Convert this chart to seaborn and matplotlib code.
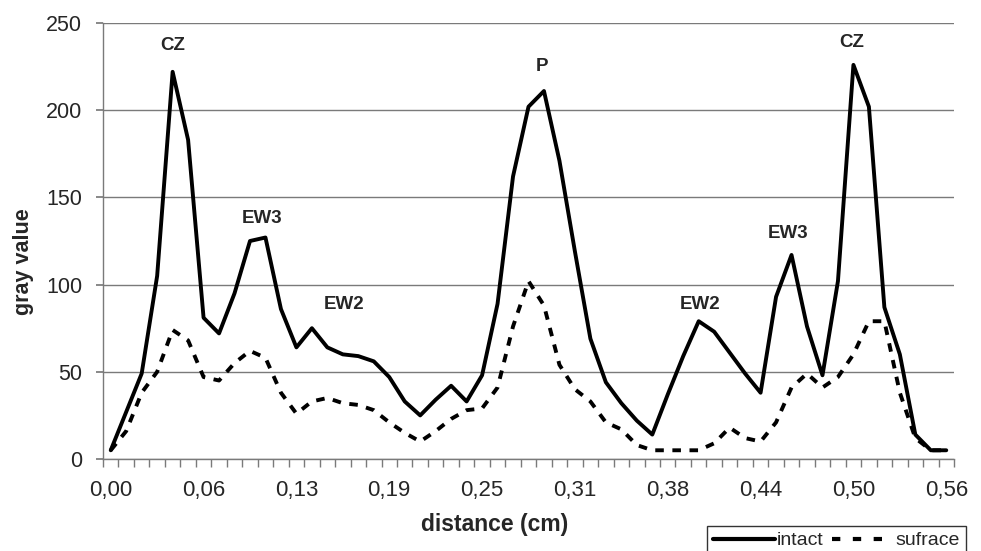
import numpy as np
import pandas as pd
import matplotlib
matplotlib.use("Agg")
import matplotlib.pyplot as plt
import seaborn as sns
from matplotlib.lines import Line2D

# ---- data ----
intact = [5, 27, 49, 105, 222, 183, 81, 72, 95, 125, 127, 86, 64, 75, 64, 60, 59, 56, 47, 33,
          25, 34, 42, 33, 48, 89, 162, 202, 211, 171, 119, 69, 44, 32, 22, 14, 37, 59, 79, 73,
          61, 49, 38, 93, 117, 76, 48, 102, 226, 202, 87, 60, 14, 5, 5]
sufrace = [5, 16, 38, 50, 74, 68, 47, 45, 55, 62, 58, 38, 26, 33, 35, 32, 31, 28, 21, 15,
           10, 16, 23, 28, 29, 41, 76, 102, 88, 54, 40, 33, 21, 17, 8, 5, 5, 5, 5, 9,
           18, 12, 10, 21, 41, 49, 41, 47, 60, 79, 79, 38, 12, 5, 5]
x_tick_labels = ["0,00", "0,06", "0,13", "0,19", "0,25", "0,31", "0,38", "0,44", "0,50", "0,56"]
y_ticks = [0, 50, 100, 150, 200, 250]
peak_labels = ["CZ", "EW3", "EW2", "P", "EW2", "EW3", "CZ"]
peak_pos = [4, 9.8, 15.1, 27.9, 38.1, 43.8, 47.9]
peak_y = [237, 138, 88.6, 225, 88.6, 129.4, 239]

n = len(intact)
idx = np.arange(n)
df = pd.DataFrame({
    "pos": np.concatenate([idx, idx]),
    "value": intact + sufrace,
    "series": ["intact"] * n + ["sufrace"] * n,
})

sns.set_theme(style="white")
plt.rcParams['font.family'] = ['Liberation Sans', 'DejaVu Sans']

fig = plt.figure(figsize=(9.81, 5.51), dpi=100)
ax = fig.add_axes([103 / 981, 1 - 459 / 551, (954 - 103) / 981, (459 - 23) / 551])

sns.lineplot(data=df, x="pos", y="value", hue="series", style="series",
             palette={"intact": "black", "sufrace": "black"},
             dashes={"intact": "", "sufrace": (2.2, 2.2)},
             linewidth=2.8, ax=ax, legend=False)

ax.set_xlim(-0.5, n - 0.5)
ax.set_ylim(0, 250)

# gridlines
ax.set_yticks(y_ticks)
ax.yaxis.grid(True, color="#7a7a7a", linewidth=1.0)
ax.set_axisbelow(True)
ax.tick_params(axis="y", length=5, direction="out", color="#7a7a7a", left=True,
               labelsize=15.5, pad=10)

# x ticks: labels at every 6th category, marks at category boundaries
ax.set_xticks(np.arange(0, n, 6))
ax.set_xticklabels(x_tick_labels, fontsize=16)
ax.set_xticks(np.arange(-0.5, n, 1), minor=True)
ax.tick_params(axis="x", which="major", length=0, pad=15)
ax.tick_params(axis="x", which="minor", length=6, direction="out", color="#7a7a7a", bottom=True)

for s in ["top", "right"]:
    ax.spines[s].set_visible(False)
for s in ["left", "bottom"]:
    ax.spines[s].set_color("#7a7a7a")
    ax.spines[s].set_linewidth(1.0)

ax.set_xlabel("distance (cm)", fontsize=16.5, fontweight="bold")
ax.xaxis.set_label_coords((495 - 103) / 851, (459 - 525) / 436)
ax.xaxis.label.set_verticalalignment("center")
ax.set_ylabel("gray value", fontsize=15.5, fontweight="bold")
ax.yaxis.set_label_coords((23 - 103) / 851, (459 - 262) / 436)
ax.yaxis.label.set_verticalalignment("center")

for lab, px, py in zip(peak_labels, peak_pos, peak_y):
    ax.text(px, py, lab, ha="center", va="center", fontsize=13.5, fontweight="bold")

handles = [Line2D([], [], color="black", linewidth=3.0),
           Line2D([], [], color="black", linewidth=3.0, dashes=(2.0, 3.0))]
leg = fig.legend(handles, ["intact", "sufrace"], loc="upper left",
                 bbox_to_anchor=(707 / 981, 1 - 526 / 551), ncol=2, frameon=True,
                 fontsize=14, handlelength=3.2, handletextpad=0.1, columnspacing=0.4,
                 borderpad=0.3, fancybox=False, borderaxespad=0)
leg.get_frame().set_edgecolor("black")
leg.get_frame().set_linewidth(1.0)

fig.savefig("out.png", dpi=100)
